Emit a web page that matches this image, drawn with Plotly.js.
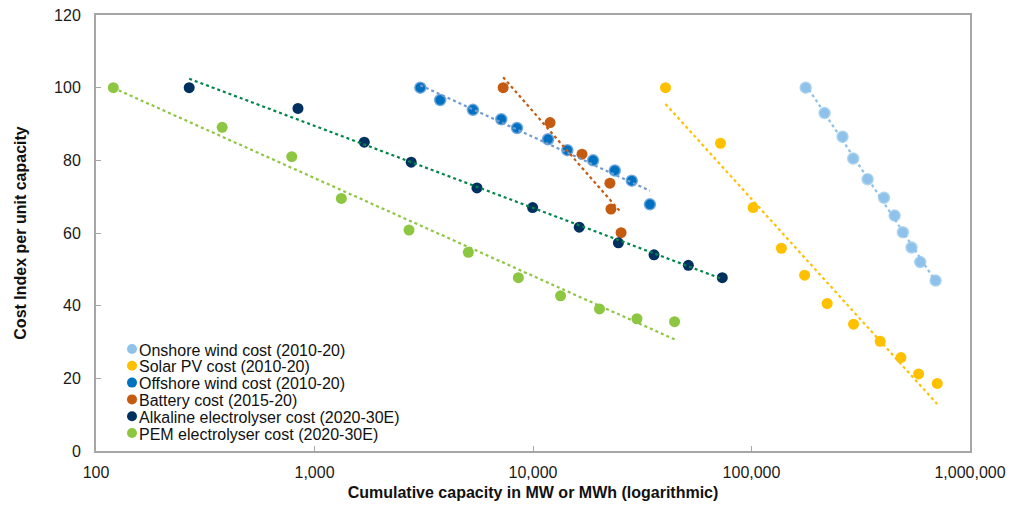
<!DOCTYPE html>
<html><head><meta charset="utf-8">
<script src="https://cdn.plot.ly/plotly-3.0.1.min.js"></script>
<style>html,body{margin:0;padding:0;background:#fff}</style>
</head><body><div id="chart" style="width:1021px;height:506px"></div>
<script>
// ---- data ----
const seriesNames = [
  "Onshore wind cost (2010-20)",
  "Solar PV cost (2010-20)",
  "Offshore wind cost (2010-20)",
  "Battery cost (2015-20)",
  "Alkaline electrolyser cost (2020-30E)",
  "PEM electrolyser cost (2020-30E)"
];
const onshoreX = [177000, 216000, 261000, 292000, 340000, 404000, 452000, 493000, 540000, 592000, 696000];
const onshoreY = [100, 93.0, 86.5, 80.5, 74.8, 69.7, 64.8, 60.2, 56.0, 52.0, 46.9];
const solarX = [40400, 72100, 101700, 137000, 175000, 222000, 293000, 388000, 483000, 582000, 708000];
const solarY = [100, 84.7, 67.0, 55.8, 48.4, 40.6, 34.9, 30.2, 25.7, 21.2, 18.6];
const offshoreX = [3050, 3760, 5310, 7160, 8450, 11720, 14360, 18840, 23680, 28310, 34280];
const offshoreY = [100, 96.6, 93.9, 91.3, 88.9, 85.8, 82.8, 80.0, 77.2, 74.4, 67.9];
const batteryX = [7300, 11970, 16760, 22490, 22740, 25300];
const batteryY = [100, 90.4, 81.7, 73.7, 66.6, 60.1];
const alkalineX = [267, 840, 1690, 2770, 5540, 9960, 16280, 24590, 35800, 51400, 73500];
const alkalineY = [100, 94.3, 85.0, 79.5, 72.4, 67.0, 61.6, 57.3, 54.0, 51.1, 47.7];
const pemX = [120, 378, 787, 1327, 2707, 5060, 8570, 13370, 20150, 29900, 44460];
const pemY = [100, 89.1, 81.0, 69.5, 60.8, 54.7, 47.7, 42.7, 39.1, 36.4, 35.6];
const xTickVals = [100, 1000, 10000, 100000, 1000000];
const xTickText = ["100", "1,000", "10,000", "100,000", "1,000,000"];
const yTickVals = [0, 20, 40, 60, 80, 100, 120];

// ---- styling ----
const markerColors = ["#8EC2EA", "#FFC000", "#0070C0", "#C55A11", "#00305F", "#8DC641"];
const markerLines = ["rgba(170,210,240,0.9)", "#FFC000", "rgba(110,165,220,0.9)", "#C55A11", "#00305F", "#8DC641"];
const trendColors = ["#8EC2EA", "#FFC000", "#6F9BD1", "#C55A11", "#00864A", "#8DC641"];
const xs = [onshoreX, solarX, offshoreX, batteryX, alkalineX, pemX];
const ys = [onshoreY, solarY, offshoreY, batteryY, alkalineY, pemY];
const FONT = "Liberation Sans, Arial, sans-serif";

// logarithmic trendline (least squares of y on log10 x), drawn between min and max x
function trend(x, y) {
  const lx = x.map(v => Math.log10(v));
  const n = lx.length;
  const mx = lx.reduce((a, b) => a + b, 0) / n;
  const my = y.reduce((a, b) => a + b, 0) / n;
  let sxy = 0, sxx = 0;
  for (let i = 0; i < n; i++) { sxy += (lx[i] - mx) * (y[i] - my); sxx += (lx[i] - mx) ** 2; }
  const b = sxy / sxx, a = my - b * mx;
  const x0 = Math.min(...x), x1 = Math.max(...x);
  return { x: [x0, x1], y: [a + b * Math.log10(x0), a + b * Math.log10(x1)] };
}

const traces = [];
for (let i = 0; i < 6; i++) {
  traces.push({
    type: "scatter", mode: "markers", name: seriesNames[i], x: xs[i], y: ys[i],
    marker: { size: 11, color: markerColors[i], line: { width: (i === 0 || i === 2) ? 1.5 : 0, color: markerLines[i] } },
    showlegend: false, hoverinfo: "x+y+name"
  });
}
for (let i = 0; i < 6; i++) {
  const t = trend(xs[i], ys[i]);
  traces.push({
    type: "scatter", mode: "lines", x: t.x, y: t.y,
    line: { color: trendColors[i], width: 2.2, dash: "dot" },
    showlegend: false, hoverinfo: "skip"
  });
}

// legend built as text lines + marker shapes (tight Excel-like spacing)
const L = 96, R = 970, T = 15, B = 451;
const legY = i => (B - 350 - i * 16.8) / (B - T);
const legMarkX = (132 - L) / (R - L);
const annotations = seriesNames.map((nm, i) => ({
  xref: "paper", yref: "paper",
  x: (137 - L) / (R - L), y: legY(i),
  xanchor: "left", yanchor: "middle", showarrow: false,
  text: nm,
  font: { family: FONT, size: 16, color: "#111" }
}));
const shapes = seriesNames.map((nm, i) => ({
  type: "circle", xref: "paper", yref: "paper",
  xsizemode: "pixel", ysizemode: "pixel",
  xanchor: legMarkX, yanchor: legY(i) + 1 / (B - T),
  x0: -5, x1: 5, y0: -5, y1: 5,
  fillcolor: markerColors[i], line: { width: 0 }
}));

const axisCommon = {
  showline: true, linecolor: "#A6A6A6", linewidth: 2, mirror: true,
  ticks: "inside", ticklen: 5, tickcolor: "#A6A6A6", tickwidth: 1,
  showgrid: false, zeroline: false,
  tickfont: { family: FONT, size: 16, color: "#1a1a1a" }
};

const layout = {
  width: 1021, height: 506,
  margin: { l: L, r: 1021 - R, t: T, b: 506 - B },
  paper_bgcolor: "#fff", plot_bgcolor: "#fff",
  font: { family: FONT },
  showlegend: false,
  xaxis: Object.assign({}, axisCommon, {
    type: "log", range: [2, 6], tickvals: xTickVals, ticktext: xTickText,
    ticklabelstandoff: 6,
    title: { text: "<b>Cumulative capacity in MW or MWh (logarithmic)</b>", font: { family: FONT, size: 16, color: "#111" }, standoff: 7 }
  }),
  yaxis: Object.assign({}, axisCommon, {
    range: [0, 120], tickvals: yTickVals,
    ticklabelstandoff: 10,
    title: { text: "<b>Cost Index per unit capacity</b>", font: { family: FONT, size: 16, color: "#111" }, standoff: 23 }
  }),
  annotations: annotations,
  shapes: shapes
};

Plotly.newPlot("chart", traces, layout, { displayModeBar: false, staticPlot: true });
</script>
</body></html>
